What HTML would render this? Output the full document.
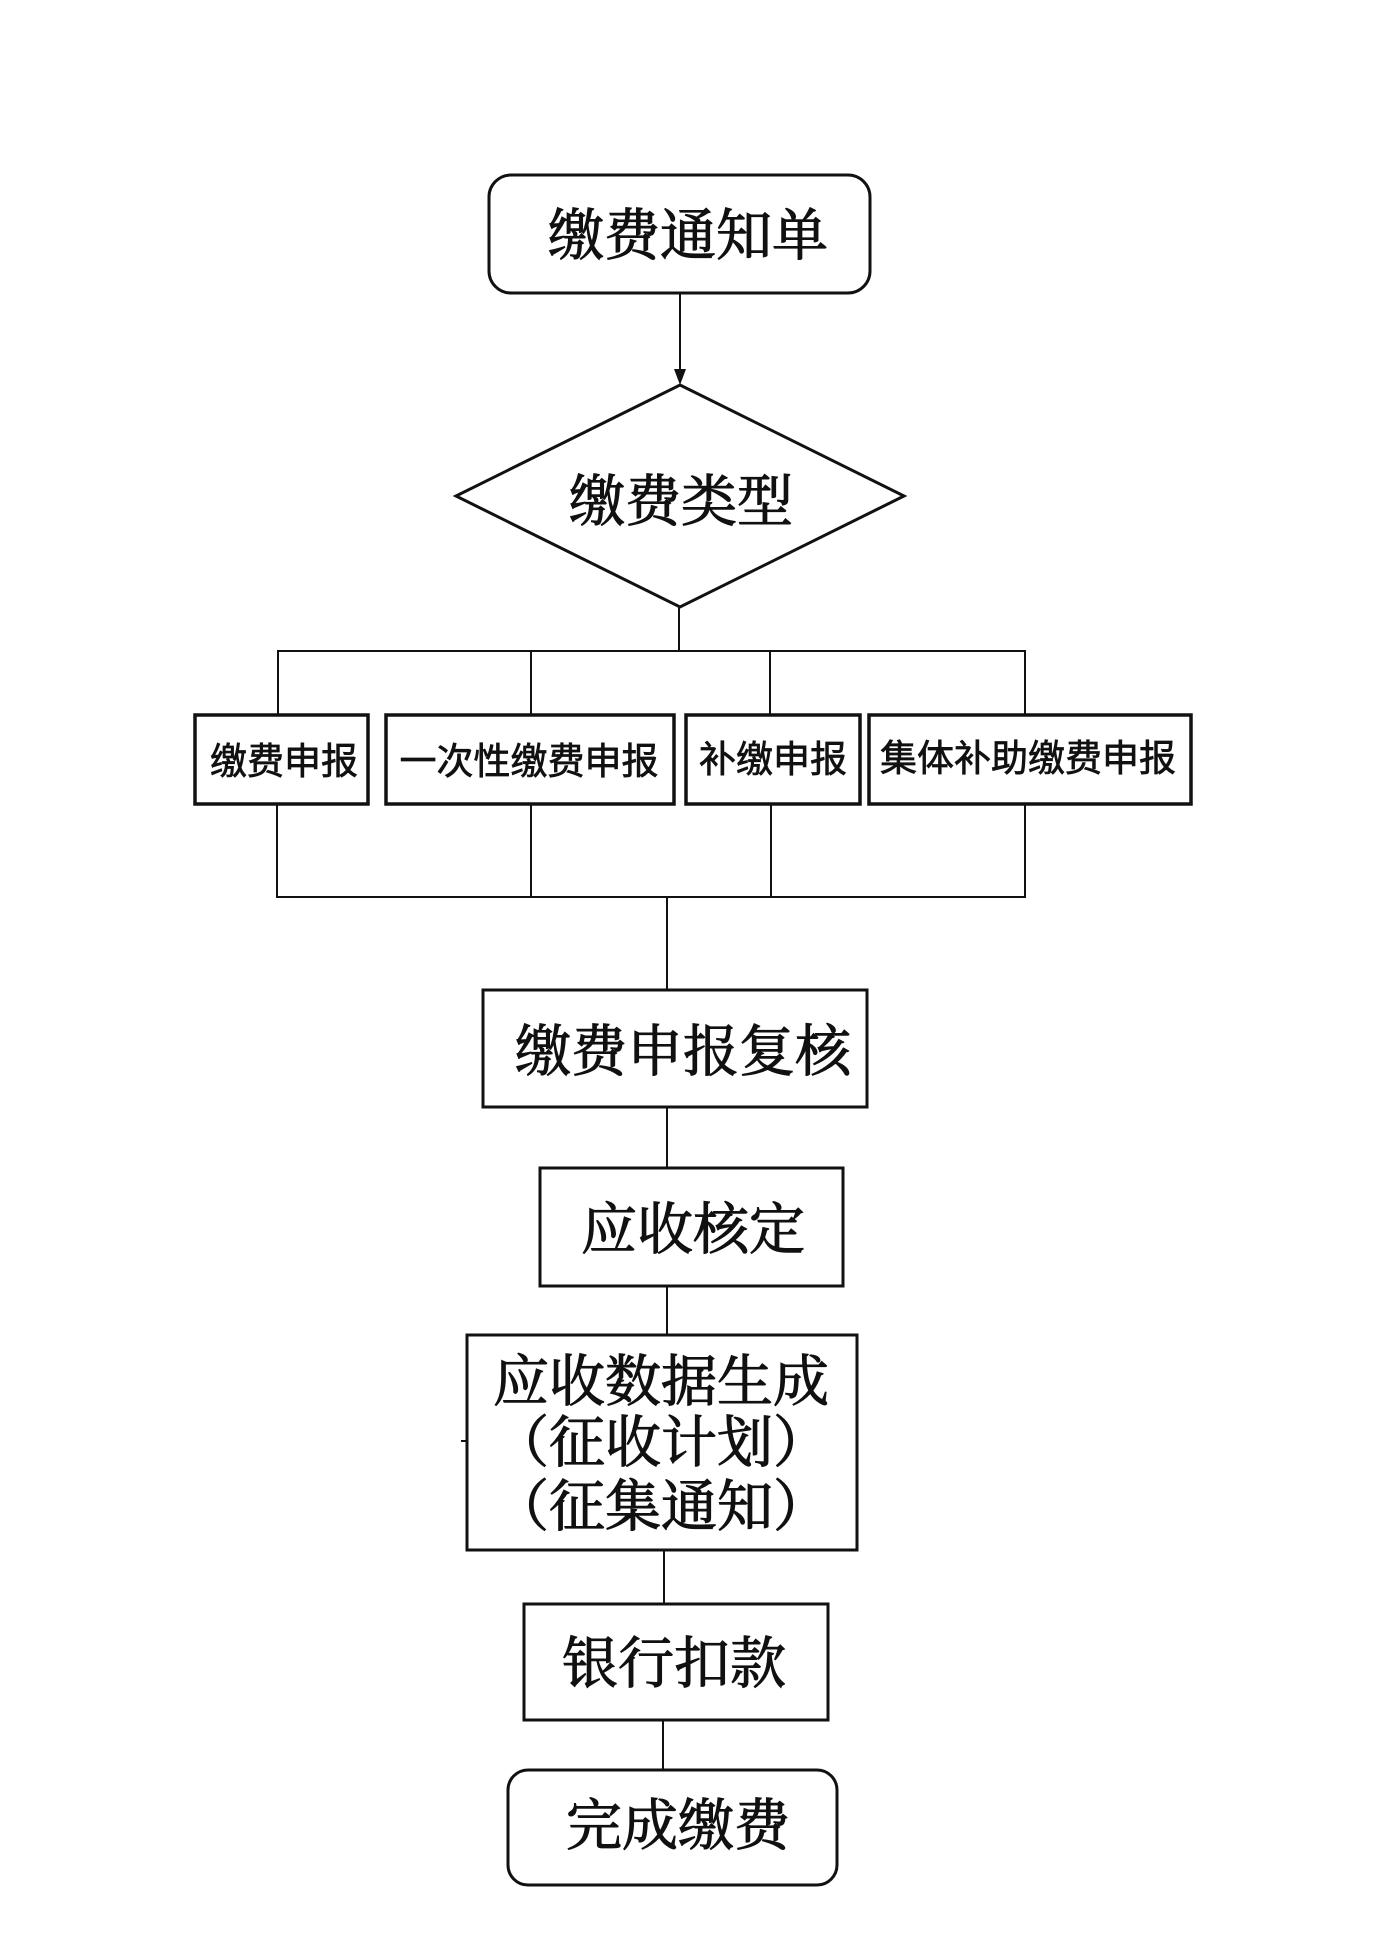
<!DOCTYPE html>
<html>
<head>
<meta charset="utf-8">
<style>
  html, body { margin:0; padding:0; background:#fff; }
  svg { display:block; }
  .big { font-family: "Liberation Serif", "Noto Serif CJK SC", serif; font-size:56px; fill:#111; stroke:#111; stroke-width:1.1px; }
  .small { font-family: "Liberation Sans", "Noto Sans CJK SC", sans-serif; font-size:37px; fill:#111; stroke:#111; stroke-width:0.7px; }
</style>
</head>
<body>
<svg width="1384" height="1958" viewBox="0 0 1384 1958" xmlns="http://www.w3.org/2000/svg">
  <rect x="0" y="0" width="1384" height="1958" fill="#fff"/>

  <!-- Top rounded box -->
  <rect x="489" y="175" width="381" height="118" rx="22" ry="22" fill="none" stroke="#111" stroke-width="3"/>
  <text class="big" x="688" y="255" text-anchor="middle">缴费通知单</text>

  <!-- Arrow -->
  <line x1="680" y1="293" x2="680" y2="372" stroke="#111" stroke-width="2"/>
  <polygon points="674,369 686,369 680,385" fill="#111"/>

  <!-- Diamond -->
  <polygon points="680,385 904,496 680,607 456,496" fill="none" stroke="#111" stroke-width="3"/>
  <text class="big" x="681" y="521" text-anchor="middle">缴费类型</text>

  <!-- Split connectors -->
  <line x1="679" y1="607" x2="679" y2="651" stroke="#111" stroke-width="2"/>
  <line x1="277" y1="651" x2="1026" y2="651" stroke="#111" stroke-width="2"/>
  <line x1="278" y1="651" x2="278" y2="715" stroke="#111" stroke-width="2"/>
  <line x1="531" y1="651" x2="531" y2="715" stroke="#111" stroke-width="2"/>
  <line x1="770" y1="651" x2="770" y2="715" stroke="#111" stroke-width="2"/>
  <line x1="1025" y1="651" x2="1025" y2="715" stroke="#111" stroke-width="2"/>

  <!-- Four boxes -->
  <rect x="195" y="715" width="173" height="89" fill="none" stroke="#111" stroke-width="3.5"/>
  <rect x="386" y="715" width="288" height="89" fill="none" stroke="#111" stroke-width="3.5"/>
  <rect x="686" y="715" width="174" height="89" fill="none" stroke="#111" stroke-width="3.5"/>
  <rect x="869" y="715" width="322" height="89" fill="none" stroke="#111" stroke-width="3.5"/>
  <text class="small" x="284" y="774" text-anchor="middle">缴费申报</text>
  <text class="small" x="529" y="774" text-anchor="middle">一次性缴费申报</text>
  <text class="small" x="773" y="772" text-anchor="middle">补缴申报</text>
  <text class="small" x="1028" y="771" text-anchor="middle">集体补助缴费申报</text>

  <!-- Merge connectors -->
  <line x1="277" y1="804" x2="277" y2="897" stroke="#111" stroke-width="2"/>
  <line x1="531" y1="804" x2="531" y2="897" stroke="#111" stroke-width="2"/>
  <line x1="771" y1="804" x2="771" y2="897" stroke="#111" stroke-width="2"/>
  <line x1="1025" y1="804" x2="1025" y2="897" stroke="#111" stroke-width="2"/>
  <line x1="276" y1="897" x2="1026" y2="897" stroke="#111" stroke-width="2"/>
  <line x1="667" y1="897" x2="667" y2="990" stroke="#111" stroke-width="2"/>

  <!-- 缴费申报复核 -->
  <rect x="483" y="990" width="384" height="117" fill="none" stroke="#111" stroke-width="3"/>
  <text class="big" x="683" y="1071" text-anchor="middle">缴费申报复核</text>
  <line x1="667" y1="1107" x2="667" y2="1168" stroke="#111" stroke-width="2"/>

  <!-- 应收核定 -->
  <rect x="540" y="1168" width="303" height="118" fill="none" stroke="#111" stroke-width="3"/>
  <text class="big" x="693" y="1249" text-anchor="middle">应收核定</text>
  <line x1="667" y1="1286" x2="667" y2="1335" stroke="#111" stroke-width="2"/>

  <!-- 应收数据生成 -->
  <rect x="467" y="1335" width="390" height="215" fill="none" stroke="#111" stroke-width="3"/>
  <line x1="461" y1="1441" x2="467" y2="1441" stroke="#111" stroke-width="2"/>
  <text class="big" x="661" y="1401" text-anchor="middle">应收数据生成</text>
  <text class="big" x="661" y="1462" text-anchor="middle">（征收计划）</text>
  <text class="big" x="661" y="1526" text-anchor="middle">（征集通知）</text>
  <line x1="664" y1="1550" x2="664" y2="1604" stroke="#111" stroke-width="2"/>

  <!-- 银行扣款 -->
  <rect x="524" y="1604" width="304" height="116" fill="none" stroke="#111" stroke-width="3"/>
  <text class="big" x="674" y="1683" text-anchor="middle">银行扣款</text>
  <line x1="663" y1="1720" x2="663" y2="1770" stroke="#111" stroke-width="2"/>

  <!-- 完成缴费 -->
  <rect x="508" y="1770" width="329" height="115" rx="20" ry="20" fill="none" stroke="#111" stroke-width="3"/>
  <text class="big" x="678" y="1845" text-anchor="middle">完成缴费</text>
</svg>
</body>
</html>
